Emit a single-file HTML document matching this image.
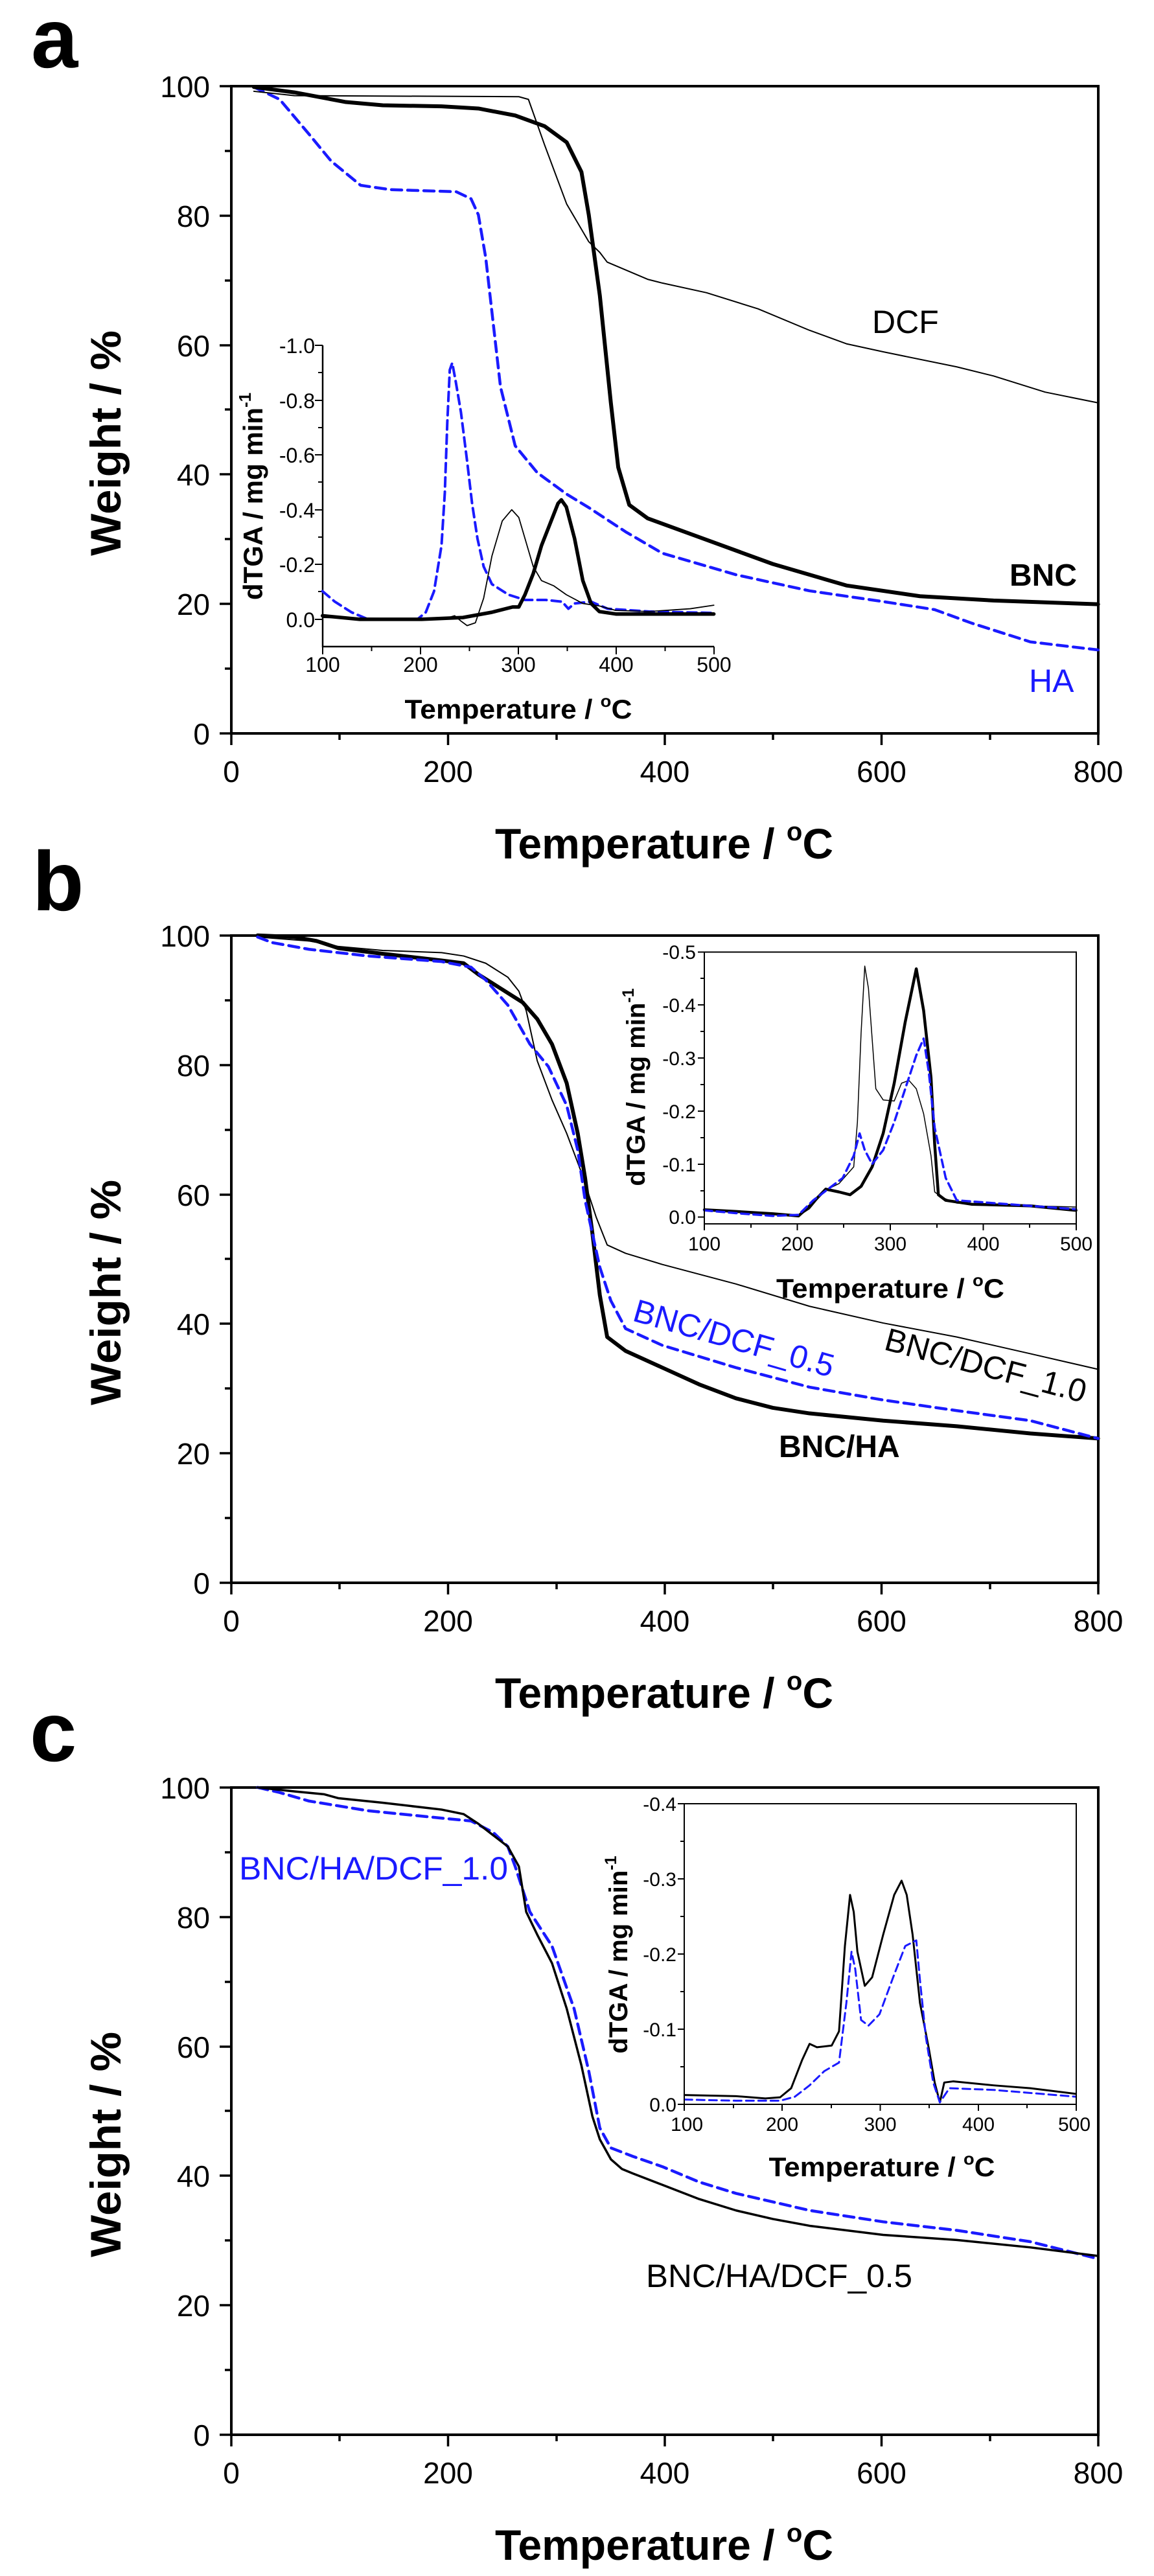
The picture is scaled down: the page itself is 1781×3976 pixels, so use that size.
<!DOCTYPE html>
<html><head><meta charset="utf-8"><style>
html,body{margin:0;padding:0;background:#fff}
svg{display:block}
text{font-family:"Liberation Sans",Arial,sans-serif}
.b{font-weight:bold}
.c{fill:none;stroke-linejoin:round;stroke-linecap:round}
</style></head><body>
<svg width="1781" height="3976" viewBox="0 0 1781 3976" xmlns="http://www.w3.org/2000/svg">
<rect width="1781" height="3976" fill="#fff"/>

<!-- Shared main axes, defined for panel a, reused with translation -->
<defs>
<g id="main">
<rect x="357" y="133" width="1338" height="999" fill="none" stroke="#000" stroke-width="4"/>
<path d="M357 1132v18M691.5 1132v18M1026 1132v18M1360.5 1132v18M1695 1132v18M524 1132v10M859 1132v10M1193 1132v10M1528 1132v10M357 1132h-18M357 932h-18M357 732h-18M357 533h-18M357 333h-18M357 133h-18M357 1032h-10M357 832h-10M357 632h-10M357 433h-10M357 233h-10" stroke="#000" stroke-width="3.5" fill="none"/>
<g font-size="46" text-anchor="middle">
<text x="357" y="1207">0</text><text x="691.5" y="1207">200</text><text x="1026" y="1207">400</text><text x="1360.5" y="1207">600</text><text x="1695" y="1207">800</text>
</g>
<g font-size="46" text-anchor="end">
<text x="324" y="1149">0</text><text x="324" y="949">20</text><text x="324" y="749">40</text><text x="324" y="550">60</text><text x="324" y="350">80</text><text x="324" y="150">100</text>
</g>
<text class="b" font-size="66" text-anchor="middle" transform="translate(186,684) rotate(-90)" textLength="348" lengthAdjust="spacingAndGlyphs">Weight / %</text>
<text class="b" font-size="66" x="1025" y="1325" text-anchor="middle">Temperature / <tspan font-size="40" dy="-28">o</tspan><tspan dy="28">C</tspan></text>
</g>
</defs>

<use href="#main"/>
<use href="#main" transform="translate(0,1311)"/>
<use href="#main" transform="translate(0,2626)"/>

<text class="b" font-size="130" x="48" y="104">a</text>
<text class="b" font-size="130" x="50" y="1405">b</text>
<text class="b" font-size="130" x="46" y="2718">c</text>

<!-- ========== PANEL A curves ========== -->
<g transform="scale(1.13585,0.82905)">
<polyline class="c" vector-effect="non-scaling-stroke" stroke="#1a1aff" stroke-width="4.5" stroke-dasharray="16 9" points="345,162 380,185 420,250 450,300 490,345 530,353 620,357 640,370 650,400 660,480 670,600 680,720 700,830 730,880 770,920 800,945 850,990 900,1030 1000,1070 1100,1100 1200,1120 1270,1135 1320,1160 1400,1195 1492,1210"/>
<polyline class="c" vector-effect="non-scaling-stroke" stroke="#000" stroke-width="2" points="345,170 400,178 705,180 718,185 740,270 770,380 800,450 815,470 825,488 880,520 900,527 960,545 1030,575 1100,615 1150,640 1200,655 1300,683 1350,700 1420,730 1492,750"/>
<polyline class="c" vector-effect="non-scaling-stroke" stroke="#000" stroke-width="6" points="345,162 400,172 470,190 520,196 600,198 650,202 700,215 740,235 770,265 790,320 800,400 815,550 830,750 840,870 855,940 880,965 950,1000 1050,1050 1150,1090 1250,1110 1350,1118 1492,1125"/>
</g>
<text font-size="50" x="1346" y="514">DCF</text>
<text class="b" font-size="48" x="1558" y="904">BNC</text>
<text font-size="50" x="1588" y="1068" fill="#1a1aff">HA</text>

<!-- Inset a -->
<g stroke="#000" fill="none">
<path d="M498 533V998H1102" stroke-width="2.5"/>
<path d="M498 998v12M649 998v12M800 998v12M951 998v12M1102 998v12M573.5 998v7M724.5 998v7M875.5 998v7M1026.5 998v7M498 533h-12M498 618h-12M498 702h-12M498 787h-12M498 871h-12M498 956h-12M498 575h-7M498 660h-7M498 744h-7M498 829h-7M498 913h-7" stroke-width="2"/>
</g>
<g font-size="32" text-anchor="end">
<text x="486" y="545">-1.0</text><text x="486" y="630">-0.8</text><text x="486" y="714">-0.6</text><text x="486" y="799">-0.4</text><text x="486" y="883">-0.2</text><text x="486" y="968">0.0</text>
</g>
<g font-size="32" text-anchor="middle">
<text x="498" y="1037">100</text><text x="649" y="1037">200</text><text x="800" y="1037">300</text><text x="951" y="1037">400</text><text x="1102" y="1037">500</text>
</g>
<text class="b" font-size="42" x="800" y="1109" text-anchor="middle" textLength="351" lengthAdjust="spacingAndGlyphs">Temperature / <tspan font-size="26" dy="-18">o</tspan><tspan dy="18">C</tspan></text>
<text class="b" font-size="42" text-anchor="middle" transform="translate(405,766) rotate(-90)">dTGA / mg min<tspan font-size="26" dy="-18">-1</tspan></text>
<g transform="translate(300,300) scale(0.63776,0.54201)">
<polyline class="c" vector-effect="non-scaling-stroke" stroke="#1a1aff" stroke-width="4" stroke-dasharray="14 8" points="310,1130 340,1160 380,1190 420,1210 540,1210 560,1190 580,1130 598,1000 606,850 612,650 618,500 624,480 632,530 645,620 660,760 672,880 685,980 700,1060 720,1110 760,1140 800,1155 850,1155 890,1160 905,1180 920,1165 960,1160 1000,1180 1100,1188 1257,1192"/>
<polyline class="c" vector-effect="non-scaling-stroke" stroke="#000" stroke-width="1.8" points="310,1205 600,1210 630,1200 645,1215 660,1228 680,1220 700,1150 720,1030 745,930 768,898 785,920 800,980 820,1060 840,1100 870,1115 900,1140 940,1165 980,1172 1020,1185 1100,1188 1200,1180 1257,1170"/>
<polyline class="c" vector-effect="non-scaling-stroke" stroke="#000" stroke-width="5.5" points="310,1200 400,1210 550,1210 650,1205 720,1190 770,1175 785,1175 800,1140 820,1080 840,1000 860,940 880,880 888,870 900,890 920,980 940,1100 960,1165 980,1188 1020,1195 1257,1195"/>
</g>

<!-- ========== PANEL B ========== -->
<g transform="translate(0,1250) scale(1.13585,0.86095)">
<polyline class="c" vector-effect="non-scaling-stroke" stroke="#000" stroke-width="2" points="350,228 420,235 460,245 520,252 600,256 630,262 660,275 690,300 705,325 715,360 730,450 750,520 770,580 790,650 800,690 810,730 825,780 850,795 900,815 1000,850 1100,890 1200,920 1300,945 1400,975 1492,1003"/>
<polyline class="c" vector-effect="non-scaling-stroke" stroke="#000" stroke-width="6" points="350,225 400,228 430,235 460,248 520,258 600,270 630,275 650,295 680,320 710,345 730,375 750,420 770,490 785,580 795,660 805,760 815,870 825,945 850,970 900,1000 950,1030 1000,1055 1050,1072 1100,1082 1200,1095 1300,1105 1400,1118 1492,1127"/>
<polyline class="c" vector-effect="non-scaling-stroke" stroke="#1a1aff" stroke-width="4.5" stroke-dasharray="16 9" points="350,228 370,238 420,250 500,262 600,272 640,282 660,305 690,350 720,420 745,460 770,530 785,610 795,700 805,760 815,820 830,880 850,930 900,960 1000,1000 1100,1035 1200,1058 1300,1077 1400,1095 1492,1127"/>
<!-- inset b curves -->
<polyline class="c" vector-effect="non-scaling-stroke" stroke="#000" stroke-width="1.5" points="957,717 1000,720 1050,725 1085,728 1100,715 1120,683 1140,670 1160,640 1165,560 1170,400 1175,280 1180,320 1190,500 1200,520 1215,522 1225,490 1235,485 1245,500 1255,545 1265,620 1270,685 1280,695 1300,705 1350,708 1400,710 1462,712"/>
<polyline class="c" vector-effect="non-scaling-stroke" stroke="#000" stroke-width="4.5" points="957,717 1000,720 1050,724 1085,728 1100,710 1122,680 1140,685 1155,690 1170,675 1185,640 1200,580 1215,490 1230,380 1245,285 1255,360 1265,480 1270,600 1275,690 1285,700 1320,707 1400,710 1462,718"/>
<polyline class="c" vector-effect="non-scaling-stroke" stroke="#1a1aff" stroke-width="3.5" stroke-dasharray="12 7" points="957,718 1000,723 1050,728 1085,726 1105,700 1125,680 1145,660 1160,620 1168,580 1175,610 1185,635 1200,610 1215,560 1230,500 1245,440 1255,410 1262,470 1270,570 1285,660 1300,700 1400,710 1462,716"/>
</g>
<g stroke="#000" fill="none">
<rect x="1087" y="1469.5" width="574" height="419.5" stroke-width="2"/>
<path d="M1087 1889v10M1230.5 1889v10M1374 1889v10M1517.5 1889v10M1661 1889v10M1159 1889v6M1302 1889v6M1446 1889v6M1589 1889v6M1087 1469.5h-10M1087 1551h-10M1087 1633h-10M1087 1715h-10M1087 1797h-10M1087 1878.5h-10M1087 1510h-6M1087 1592h-6M1087 1674h-6M1087 1756h-6M1087 1838h-6" stroke-width="2"/>
</g>
<g font-size="30" text-anchor="end">
<text x="1074" y="1480">-0.5</text><text x="1074" y="1562">-0.4</text><text x="1074" y="1644">-0.3</text><text x="1074" y="1726">-0.2</text><text x="1074" y="1808">-0.1</text><text x="1074" y="1889">0.0</text>
</g>
<g font-size="30" text-anchor="middle">
<text x="1087" y="1930">100</text><text x="1230.5" y="1930">200</text><text x="1374" y="1930">300</text><text x="1517.5" y="1930">400</text><text x="1661" y="1930">500</text>
</g>
<text class="b" font-size="42" x="1374" y="2003" text-anchor="middle" textLength="352" lengthAdjust="spacingAndGlyphs">Temperature / <tspan font-size="26" dy="-18">o</tspan><tspan dy="18">C</tspan></text>
<text class="b" font-size="40" text-anchor="middle" transform="translate(995,1678) rotate(-90)">dTGA / mg min<tspan font-size="25" dy="-17">-1</tspan></text>
<text font-size="50" fill="#1a1aff" text-anchor="middle" transform="translate(1128,2082) rotate(16)">BNC/DCF_0.5</text>
<text font-size="50" text-anchor="middle" transform="translate(1517,2124) rotate(15)">BNC/DCF_1.0</text>
<text class="b" font-size="48" x="1202" y="2249">BNC/HA</text>

<!-- ========== PANEL C ========== -->
<g transform="translate(0,2600) scale(1.13585,0.87758)">
<polyline class="c" vector-effect="non-scaling-stroke" stroke="#1a1aff" stroke-width="4.5" stroke-dasharray="16 9" points="350,181 380,190 420,205 500,222 600,235 640,240 670,260 690,285 700,320 720,400 750,460 780,570 800,680 815,780 830,815 860,830 900,848 950,875 1000,895 1050,910 1100,925 1200,945 1300,960 1400,980 1492,1010"/>
<polyline class="c" vector-effect="non-scaling-stroke" stroke="#000" stroke-width="3.5" points="350,181 400,188 440,193 460,200 520,208 600,220 630,228 650,245 670,265 690,285 705,320 715,400 730,440 750,490 770,570 790,670 805,760 815,800 830,835 845,852 860,860 900,880 950,905 1000,925 1050,940 1100,952 1200,968 1300,977 1400,990 1492,1005"/>
<!-- inset c curves -->
<polyline class="c" vector-effect="non-scaling-stroke" stroke="#000" stroke-width="3" points="930,722 1000,724 1040,728 1060,726 1075,710 1090,660 1100,632 1110,638 1130,635 1140,610 1148,460 1155,370 1160,400 1165,470 1175,530 1185,515 1200,440 1215,370 1225,345 1232,370 1240,440 1250,560 1262,640 1270,700 1277,735 1283,700 1295,698 1350,705 1400,710 1462,720"/>
<polyline class="c" vector-effect="non-scaling-stroke" stroke="#1a1aff" stroke-width="3" stroke-dasharray="12 7" points="930,730 1000,732 1060,732 1080,725 1100,705 1120,680 1140,665 1150,560 1157,470 1162,500 1170,590 1180,600 1195,580 1215,510 1230,460 1245,450 1250,520 1258,620 1268,700 1277,735 1290,710 1350,713 1462,725"/>
</g>
<g stroke="#000" fill="none">
<rect x="1056" y="2784" width="605" height="464" stroke-width="2"/>
<path d="M1056 3248v10M1207 3248v10M1358.5 3248v10M1510 3248v10M1661 3248v10M1132 3248v6M1283 3248v6M1434 3248v6M1585 3248v6M1056 2784h-10M1056 2900h-10M1056 3016h-10M1056 3132h-10M1056 3248h-10M1056 2842h-6M1056 2958h-6M1056 3074h-6M1056 3190h-6" stroke-width="2"/>
</g>
<g font-size="30" text-anchor="end">
<text x="1044" y="2795">-0.4</text><text x="1044" y="2911">-0.3</text><text x="1044" y="3027">-0.2</text><text x="1044" y="3143">-0.1</text><text x="1044" y="3259">0.0</text>
</g>
<g font-size="30" text-anchor="middle">
<text x="1060" y="3289">100</text><text x="1207" y="3289">200</text><text x="1358.5" y="3289">300</text><text x="1510" y="3289">400</text><text x="1658" y="3289">500</text>
</g>
<text class="b" font-size="42" x="1361" y="3359" text-anchor="middle" textLength="349" lengthAdjust="spacingAndGlyphs">Temperature / <tspan font-size="26" dy="-18">o</tspan><tspan dy="18">C</tspan></text>
<text class="b" font-size="40" text-anchor="middle" transform="translate(968,3017) rotate(-90)">dTGA / mg min<tspan font-size="25" dy="-17">-1</tspan></text>
<text font-size="50" fill="#1a1aff" x="369" y="2901" textLength="415" lengthAdjust="spacingAndGlyphs">BNC/HA/DCF_1.0</text>
<text font-size="50" x="997" y="3530" textLength="411" lengthAdjust="spacingAndGlyphs">BNC/HA/DCF_0.5</text>
</svg>
</body></html>
